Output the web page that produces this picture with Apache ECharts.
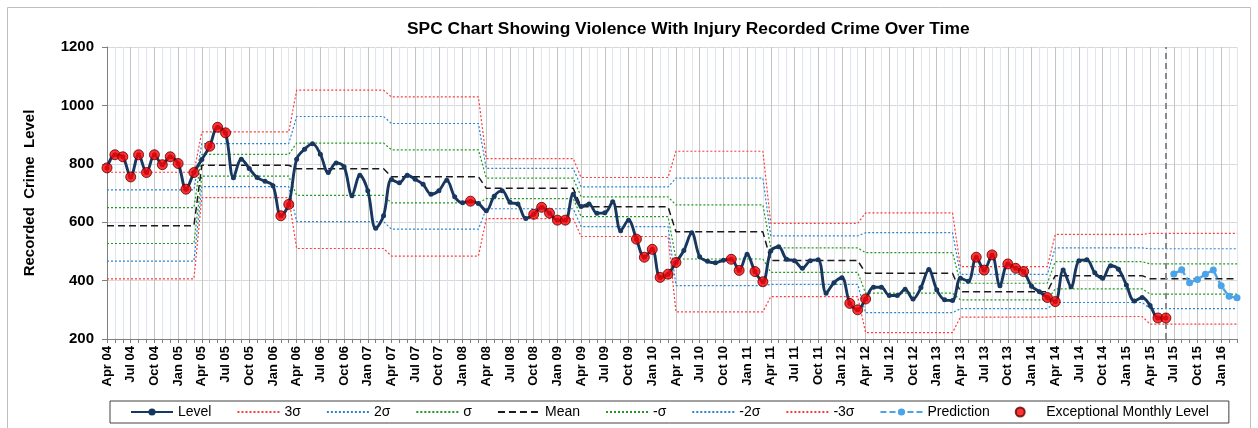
<!DOCTYPE html>
<html>
<head>
<meta charset="utf-8">
<script src="https://cdn.jsdelivr.net/npm/echarts@6/dist/echarts.min.js"></script>
</head>
<body style="margin:0;background:#fff">
<div id="ch" style="width:1258px;height:428px;"></div>
<script>
// months Apr 04 .. Mar 16
var monthNames = ['Jan', 'Feb', 'Mar', 'Apr', 'May', 'Jun', 'Jul', 'Aug', 'Sep', 'Oct', 'Nov', 'Dec']
var cats = []
for (var i = 0; i < 144; i++) {
    var m = (3 + i) % 12
    var y = 4 + Math.floor((3 + i) / 12)
    cats.push(monthNames[m] + ' ' + (y < 10 ? '0' + y : y))
}

// monthly recorded level, Apr 04 .. Jun 15
var level = [
    786, 831, 824, 755, 831, 770, 831, 797, 824, 801, 713, 770,
    815, 860, 925, 906, 752, 816, 784, 753, 740, 725, 622, 661,
    816, 850, 869, 833, 770, 803, 790, 691, 761, 708, 579, 622,
    746, 735, 761, 747, 730, 696, 708, 744, 687, 667, 672, 664,
    639, 689, 708, 668, 662, 613, 627, 651, 631, 607, 607, 696,
    654, 662, 631, 632, 670, 571, 607, 542, 480, 507, 411, 422,
    462, 503, 564, 482, 466, 461, 470, 473, 435, 490, 431, 396,
    501, 516, 473, 468, 442, 468, 471, 357, 393, 410, 322, 300,
    337, 377, 377, 349, 349, 370, 337, 376, 438, 369, 334, 332,
    408, 398, 480, 436, 488, 382, 457, 442, 431, 381, 362, 342,
    328, 436, 379, 468, 471, 427, 408, 451, 439, 385, 330, 342,
    315, 272, 272
]
// forecast Jul 15 .. Mar 16
var prediction = [423, 437, 393, 404, 422, 436, 382, 346, 341]
// months flagged red
var exceptionalIdx = [0, 1, 2, 3, 4, 5, 6, 7, 8, 9, 10, 11, 13, 14, 15, 22, 23, 46,
    54, 55, 56, 57, 58, 67, 68, 69, 70, 71, 72, 79, 80, 82, 83, 94, 95, 96,
    110, 111, 112, 114, 115, 116, 119, 120, 133, 134]

// control limits, one value per year (Apr-Mar)
var up3 = [771, 909, 1052, 1029, 818, 753, 843, 596, 632, 448, 558, 562]
var up2 = [711, 869, 962, 938, 784, 721, 751, 553, 564, 421, 512, 509]
var up1 = [650, 832, 871, 848, 751, 687, 659, 512, 496, 391, 465, 457]
var mean = [588, 795, 783, 756, 716, 653, 567, 469, 425, 362, 417, 406]
var dn1 = [527, 758, 692, 666, 681, 619, 474, 428, 357, 334, 372, 354]
var dn2 = [467, 722, 602, 576, 646, 585, 383, 387, 290, 304, 325, 304]
var dn3 = [406, 684, 510, 484, 612, 551, 293, 345, 222, 275, 277, 251]
var vLineAt = 'Jun 15'

function monthly(arr) {
    var out = []
    arr.forEach(function (v) {
        for (var k = 0; k < 12; k++) out.push(v)
    })
    return out
}
var predData = level.map(function () { return null }).concat(prediction)
var excData = exceptionalIdx.map(function (ix) { return [ix, level[ix]] })

function limit(name, arr, color, dash, w) {
    return {
        name: name,
        type: 'line',
        data: monthly(arr),
        symbol: 'none',
        silent: true,
        z: 2,
        itemStyle: { color: color },
        lineStyle: { color: color, width: w || 1.2, type: dash }
    }
}
function noDot(name) {
    return { name: name, itemStyle: { opacity: 0 } }
}

var red = '#ff3b3b', blue = '#2a85d0', green = '#1f9a1f'
var chartInst = echarts.init(document.getElementById('ch'))
var option = {
    animation: false,
    title: {
        text: 'SPC Chart Showing Violence With Injury Recorded Crime Over Time',
        left: 402,
        top: 16,
        textStyle: { fontFamily: 'Liberation Sans', fontSize: 17.4, fontWeight: 'bold', color: '#000' }
    },
    graphic: [{
        type: 'rect',
        shape: { x: 7.5, y: 7.5, width: 1243, height: 440 },
        style: { fill: 'none', stroke: '#bfbfbf', lineWidth: 1 },
        silent: true
    }],
    legend: {
        left: 110,
        top: 401,
        padding: [4, 20],
        itemGap: 25,
        itemWidth: 42,
        itemHeight: 9,
        borderColor: '#404040',
        borderWidth: 1,
        textStyle: { fontFamily: 'Liberation Sans', fontSize: 14, color: '#000' },
        data: ['Level', noDot('3σ'), noDot('2σ'), noDot('σ'), noDot('Mean'), noDot('-σ'),
            noDot('-2σ'), noDot('-3σ'), 'Prediction', 'Exceptional Monthly Level']
    },
    grid: { left: 107, right: 21, top: 47, bottom: 89 },
    xAxis: {
        type: 'category',
        data: cats,
        boundaryGap: false,
        axisLine: { lineStyle: { color: '#7f7f7f' } },
        axisTick: { interval: 0, length: 4, lineStyle: { color: '#7f7f7f' } },
        axisLabel: {
            interval: 2,
            rotate: 90,
            margin: 7,
            fontFamily: 'Liberation Sans',
            fontSize: 13,
            fontWeight: 'bold',
            color: '#000'
        },
        splitLine: {
            show: true,
            interval: 0,
            lineStyle: { color: ['#c4c4c4', '#dfe6ee', '#dfe6ee'], width: 1 }
        }
    },
    yAxis: {
        type: 'value',
        min: 200,
        max: 1200,
        interval: 200,
        name: 'Recorded  Crime  Level',
        nameLocation: 'middle',
        nameGap: 70,
        nameTextStyle: { fontFamily: 'Liberation Sans', fontSize: 15, fontWeight: 'bold', color: '#000' },
        axisLine: { show: true, lineStyle: { color: '#7f7f7f' } },
        axisTick: { show: true, length: 5, lineStyle: { color: '#7f7f7f' } },
        axisLabel: {
            fontFamily: 'Liberation Sans', fontSize: 15, fontWeight: 'bold', color: '#000', margin: 13,
            formatter: function (v) { return String(v) }
        },
        splitLine: { lineStyle: { color: '#d9d9d9' } }
    },
    series: [
        limit('3σ', up3, red, [2, 2]),
        limit('2σ', up2, blue, [2, 2]),
        limit('σ', up1, green, [2, 2]),
        limit('Mean', mean, '#1a1a1a', [7, 4], 1.5),
        limit('-σ', dn1, green, [2, 2]),
        limit('-2σ', dn2, blue, [2, 2]),
        limit('-3σ', dn3, red, [2, 2]),
        {
            name: 'Level',
            type: 'line',
            data: level,
            smooth: 0.35,
            symbol: 'circle',
            symbolSize: 5,
            showAllSymbol: true,
            z: 5,
            lineStyle: { color: '#17375e', width: 2.9 },
            itemStyle: { color: '#17375e' }
        },
        {
            name: 'Prediction',
            type: 'line',
            data: predData,
            symbol: 'circle',
            symbolSize: 7,
            showAllSymbol: true,
            z: 5,
            lineStyle: { color: '#4ba3e8', width: 2.4, type: [6, 3] },
            itemStyle: { color: '#4ba3e8' },
            markLine: {
                silent: true,
                symbol: 'none',
                label: { show: false },
                lineStyle: { color: '#8a8a8a', width: 2, type: [6, 4] },
                data: [{ xAxis: vLineAt }]
            }
        },
        {
            name: 'Exceptional Monthly Level',
            type: 'scatter',
            data: excData,
            symbol: 'circle',
            symbolSize: 10,
            z: 6,
            itemStyle: { color: '#ff0000', borderColor: '#5a0000', borderWidth: 1 }
        }
    ]
}
chartInst.setOption(option)
</script>
</body>
</html>
